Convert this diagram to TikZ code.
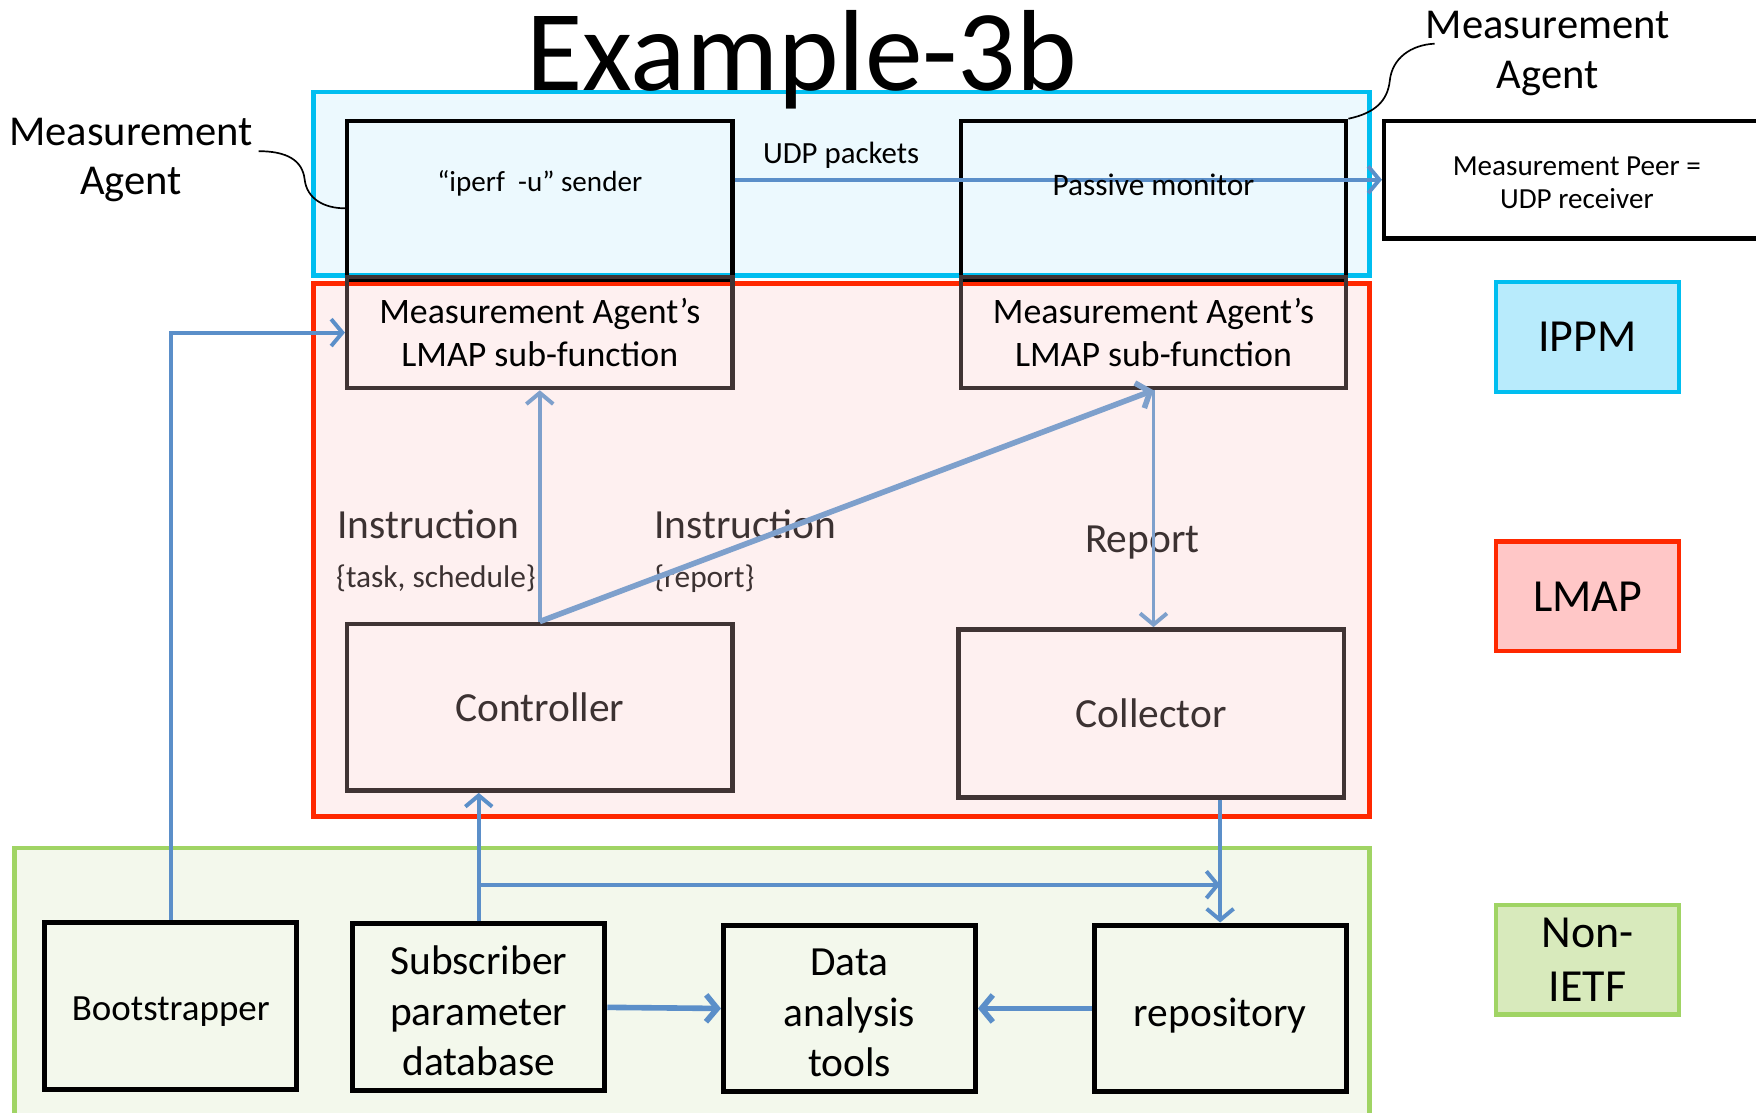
\documentclass[tikz,border=0pt]{standalone}
\usepackage{fontspec}
\setmainfont{Carlito}
\usetikzlibrary{arrows.meta}

\definecolor{ippmline}{RGB}{0,190,240}
\definecolor{ippmfill}{RGB}{236,249,254}
\definecolor{ippmkey}{RGB}{184,235,252}
\definecolor{lmapline}{RGB}{255,40,0}
\definecolor{lmapfill}{RGB}{254,240,240}
\definecolor{lmapkey}{RGB}{255,199,199}
\definecolor{ietfline}{RGB}{160,212,100}
\definecolor{ietffill}{RGB}{243,248,236}
\definecolor{ietfkey}{RGB}{216,234,188}
\definecolor{flow}{RGB}{91,143,201}
\definecolor{lflow}{RGB}{126,160,204}
\definecolor{darkedge}{RGB}{64,52,52}
\definecolor{darktext}{RGB}{60,50,50}

\newcommand{\fs}[2]{\fontsize{#1}{#2}\selectfont}

\begin{document}
\begin{tikzpicture}[x=1pt,y=-1pt,
  frame/.style={line width=4pt},
  mabox/.style={draw=black,line width=4pt,inner sep=0pt},
  lbox/.style={draw=darkedge,line width=4pt,inner sep=0pt,align=center},
  nbox/.style={draw=black,line width=4.5pt,inner sep=0pt,align=center,
    minimum width=225pt,minimum height=149pt,font=\fs{37}{45}},
  keybox/.style={line width=4pt,inner sep=0pt,align=center,
    minimum width=163pt,minimum height=98pt,font=\fs{41}{49}},
  tip/.style={-{Straight Barb[length=10pt,width=24pt]}},
  flowline/.style={draw=flow,line width=3.5pt,tip},
  lflowline/.style={draw=lflow,line width=3.5pt,tip},
  callout/.style={draw=black,line width=1.5pt},
]
\useasboundingbox (0,0) rectangle (1568,993);

% group frames
\draw[frame,draw=ietfline,fill=ietffill] (13,757) rectangle (1223,1015);
\draw[frame,draw=lmapline,fill=lmapfill] (280,253) rectangle (1223,729);
\draw[frame,draw=ippmline,fill=ippmfill] (280,82) rectangle (1223,246);

% title
\node[anchor=base,font=\fs{103}{110}] (title) at (716,81) {Example-3b};

% measurement agents
\node[mabox,minimum width=344pt,minimum height=142pt] (snd) at (482,179) {};
\node[mabox,minimum width=344pt,minimum height=142pt] (mon) at (1030,179) {};
\node[font=\fs{26}{30}] (sndtxt) at (482,164) {“iperf\ \ -u” sender};
\node[lbox,draw=darkedge,minimum width=344pt,minimum height=99pt,font=\fs{32}{38}] (ma1) at (482,297)
  {Measurement Agent’s\\LMAP sub-function};
\node[lbox,minimum width=344pt,minimum height=99pt,font=\fs{32}{38}] (ma2) at (1030,297)
  {Measurement Agent’s\\LMAP sub-function};
\node[mabox,align=center,minimum width=344pt,minimum height=105pt,font=\fs{26}{30}] (peer) at (1408,160.5)
  {\rule{0pt}{22pt}Measurement Peer =\\UDP receiver};

% controller and collector
\node[lbox,text=darktext,minimum width=344pt,minimum height=149pt,font=\fs{37}{44}] (ctrl) at (482,631.5) {Controller};
\node[lbox,text=darktext,minimum width=344pt,minimum height=150pt,font=\fs{37}{44}] (coll) at (1028,637) {Collector};

% non-IETF components
\node[nbox,font=\fs{33}{40},text height=27pt,text depth=0pt] (boot) at (152.5,898) {Bootstrapper};
\node[nbox] (sub) at (427.5,899.5) {\rule{0pt}{32pt}Subscriber\\parameter\\database};
\node[nbox] (data) at (758.5,900.5) {\rule{0pt}{32pt}Data\\analysis\\tools};
\node[nbox,text height=33pt,text depth=0pt] (repo) at (1089.5,900.5) {repository};

% key
\node[keybox,draw=ippmline,fill=ippmkey] (kippm) at (1417.5,301) {IPPM};
\node[keybox,draw=lmapline,fill=lmapkey] (klmap) at (1417.5,532.5) {LMAP};
\node[keybox,draw=ietfline,fill=ietfkey] (kietf) at (1417.5,857) {Non-\\IETF};

% labels
\node[anchor=base,font=\fs{27.5}{30}] (udp) at (751,146) {UDP packets};
\node[anchor=base west,inner sep=0pt,text=darktext,font=\fs{37}{44}] (ins1) at (301,481) {Instruction};
\node[anchor=base west,inner sep=0pt,text=darktext,font=\fs{28}{34}] (arg1) at (300,525) {\{task, schedule\}};
\node[anchor=base west,inner sep=0pt,text=darktext,font=\fs{37}{44}] (ins2) at (584,481) {Instruction};
\node[anchor=base west,inner sep=0pt,text=darktext,font=\fs{28}{34}] (arg2) at (584,525) {\{report\}};
\node[anchor=base,inner sep=0pt,text=darktext,font=\fs{37}{44}] (rep) at (1020,493) {Report};

% callouts
\node[align=center,font=\fs{38}{44}] (lma) at (117,143) {Measurement\\Agent};
\node[align=center,font=\fs{38}{45}] (rma) at (1382,48) {Measurement\\Agent};
\coordinate (lc) at (231,135);
\coordinate (rc) at (1281,39);
\draw[callout] (lc) .. controls (256,135) and (270,143) .. (272,160)
  .. controls (274,178) and (290,186) .. (snd.west |- 0,186);
\draw[callout] (mon.north east) .. controls (1228,101) and (1239,90) .. (1241,72)
  .. controls (1243,52) and (1260,40) .. (rc);

% data flows
\draw[flowline] (snd.east |- peer.west) -- (peer.west);
\node[font=\fs{28}{34}] (montxt) at (1030,165) {Passive monitor};
\draw[flowline] (boot.north) |- (ma1.west);
\draw[lflowline] (ctrl.north) -- (ma1.south);
\draw[lflowline,line width=5pt] (ctrl.north) -- (ma2.south);
\draw[lflowline] (ma2.south) -- (ma2.south |- coll.north);
\draw[flowline] (sub.north) -- (sub.north |- ctrl.south);
\coordinate (br) at (sub.north |- 0,790);
\draw[flowline] (br) -- (br -| repo.north);
\draw[flowline] (repo.north |- coll.south) -- (repo.north);
\draw[flowline,line width=5pt] (sub.east) -- (data.west);
\draw[flowline,line width=5pt] (repo.west) -- (data.east);
\end{tikzpicture}
\end{document}
